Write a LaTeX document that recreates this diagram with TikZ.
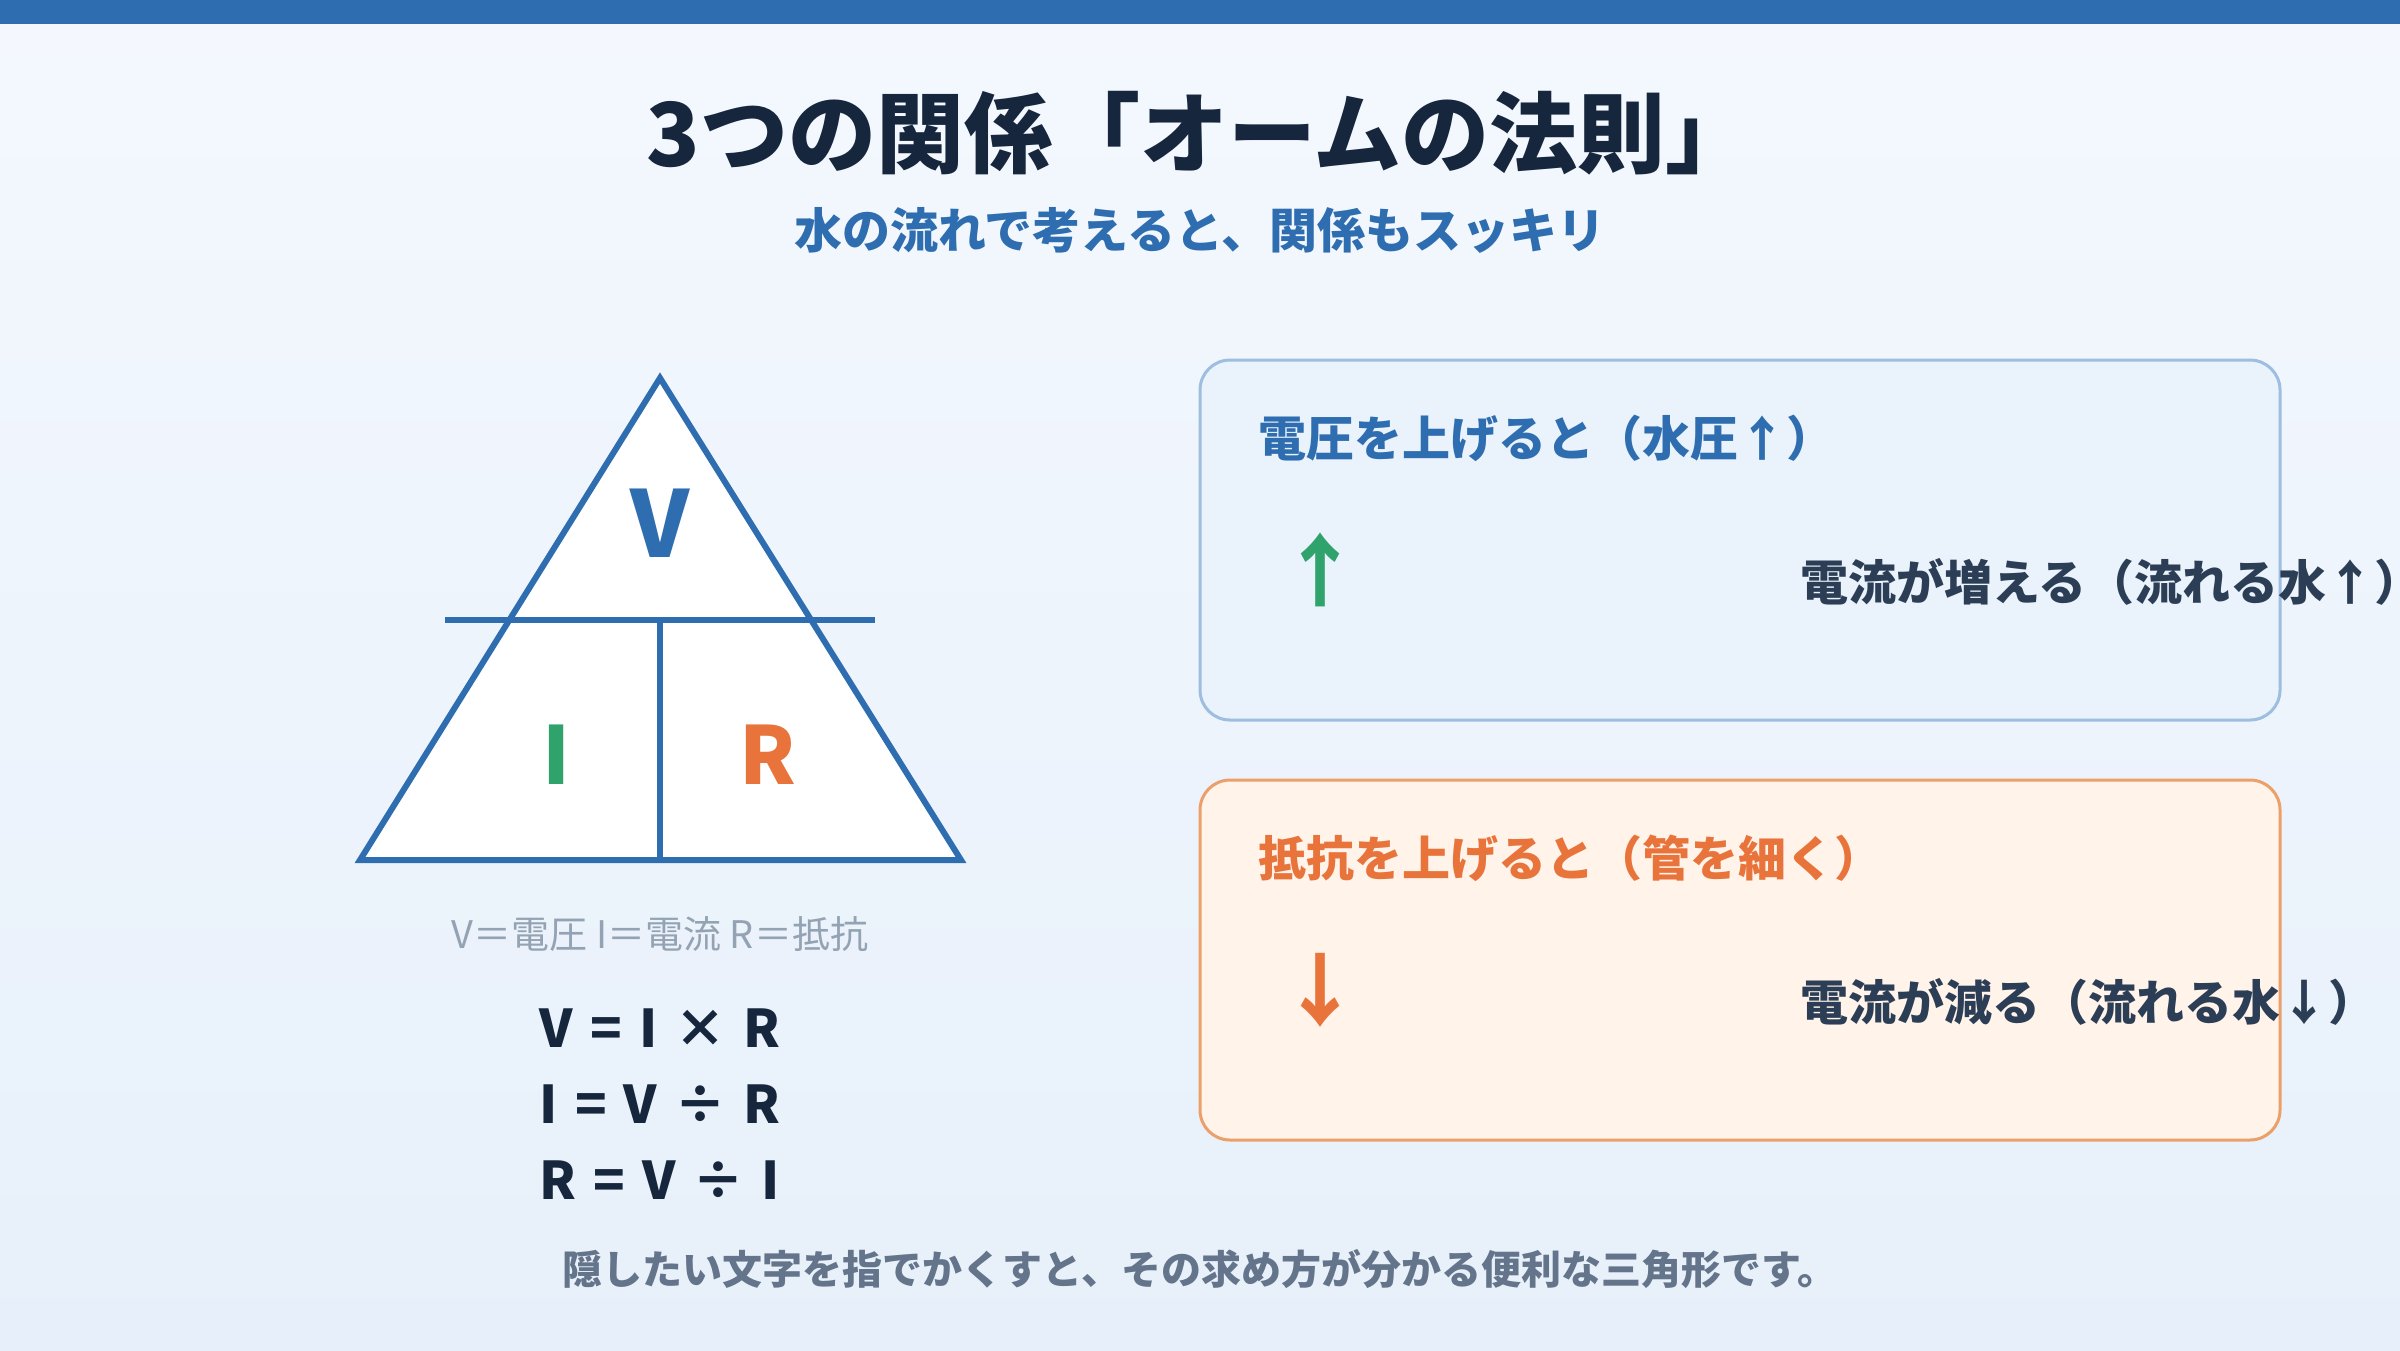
\documentclass[tikz,border=0pt]{standalone}
\usepackage{fontspec}
\setmainfont{Noto Sans CJK JP}
\definecolor{bgtop}{HTML}{F4F8FE}
\definecolor{bgbot}{HTML}{E7F0FA}
\definecolor{mainblue}{HTML}{2E6DB0}
\definecolor{darktxt}{HTML}{15263D}
\definecolor{bodytxt}{HTML}{2C3E55}
\definecolor{igreen}{HTML}{2FA36B}
\definecolor{rorange}{HTML}{E8743B}
\definecolor{legendgray}{HTML}{94A3B3}
\definecolor{footgray}{HTML}{64748B}
\definecolor{cardafill}{HTML}{EAF2FB}
\definecolor{cardaline}{HTML}{9DBEE0}
\definecolor{cardbfill}{HTML}{FFF3EA}
\definecolor{cardbline}{HTML}{EBA06A}
\newcommand{\fs}[1]{\fontsize{#1}{#1}\selectfont}
\newcommand{\gp}{\hspace{17pt}}
\tikzset{
  txt/.style={inner sep=0pt, outer sep=0pt},
  cardbox/.style={rectangle, rounded corners=30pt, line width=3pt, minimum width=1080pt, minimum height=360pt, inner sep=0pt},
  cardtitle/.style={txt, anchor=west, font=\fs{48}\bfseries},
  cardbody/.style={txt, anchor=west, font=\fs{48}\bfseries, text=bodytxt},
  bigarrow/.style={txt, font=\fs{80}\bfseries},
  triline/.style={draw=mainblue, line width=6pt},
  formula/.style={txt, font=\fs{52}\bfseries, text=darktxt}
}
\begin{document}
\begin{tikzpicture}[x=1pt,y=-1pt]
\useasboundingbox (0,0) rectangle (2400,1350);
\shade[top color=bgtop, bottom color=bgbot] (0,0) rectangle (2400,1350);
\fill[mainblue] (0,0) rectangle (2400,24);

\node[txt, font=\fs{88}\bfseries, text=darktxt] (title) at (1200,133) {3つの関係「オームの法則」};
\node[txt, font=\fs{48}\bfseries, text=mainblue] (subtitle) at (1200,230) {水の流れで考えると、関係もスッキリ};

% triangle
\filldraw[triline, fill=white, line join=miter] (660,378) -- (360,860) -- (961,860) -- cycle;
\draw[triline] (445,620) -- (875,620);
\draw[triline] (660,620) -- (660,860);
\node[txt, font=\fs{92}\bfseries, text=mainblue] (v) at (660,523) {V};
\node[txt, font=\fs{80}\bfseries, text=igreen] (i) at (556,755) {I};
\node[txt, font=\fs{80}\bfseries, text=rorange] (r) at (768,755) {R};

\node[txt, font=\fs{38}, text=legendgray] (legend) at (660,934) {V＝電圧 I＝電流 R＝抵抗};
\node[formula] (f1) at (660,1028) {V\gp=\gp I\gp×\gp R};
\node[formula] (f2) at (660,1104) {I\gp=\gp V\gp÷\gp R};
\node[formula] (f3) at (660,1180) {R\gp=\gp V\gp÷\gp I};

% cards
\node[cardbox, fill=cardafill, draw=cardaline] (carda) at (1740,540) {};
\node[cardtitle, text=mainblue] (cardatitle) at (1258,438) {電圧を上げると（水圧↑）};
\node[bigarrow, text=igreen] (cardaarrow) at (1320,570) {↑};
\node[cardbody] (cardabody) at (1800,582) {電流が増える（流れる水↑）};

\node[cardbox, fill=cardbfill, draw=cardbline] (cardb) at (1740,960) {};
\node[cardtitle, text=rorange] (cardbtitle) at (1258,858) {抵抗を上げると（管を細く）};
\node[bigarrow, text=rorange] (cardbarrow) at (1320,990) {↓};
\node[cardbody] (cardbbody) at (1800,1002) {電流が減る（流れる水↓）};

\node[txt, font=\fs{40}\bfseries, text=footgray] (footer) at (1200,1269) {隠したい文字を指でかくすと、その求め方が分かる便利な三角形です。};
\end{tikzpicture}
\end{document}
